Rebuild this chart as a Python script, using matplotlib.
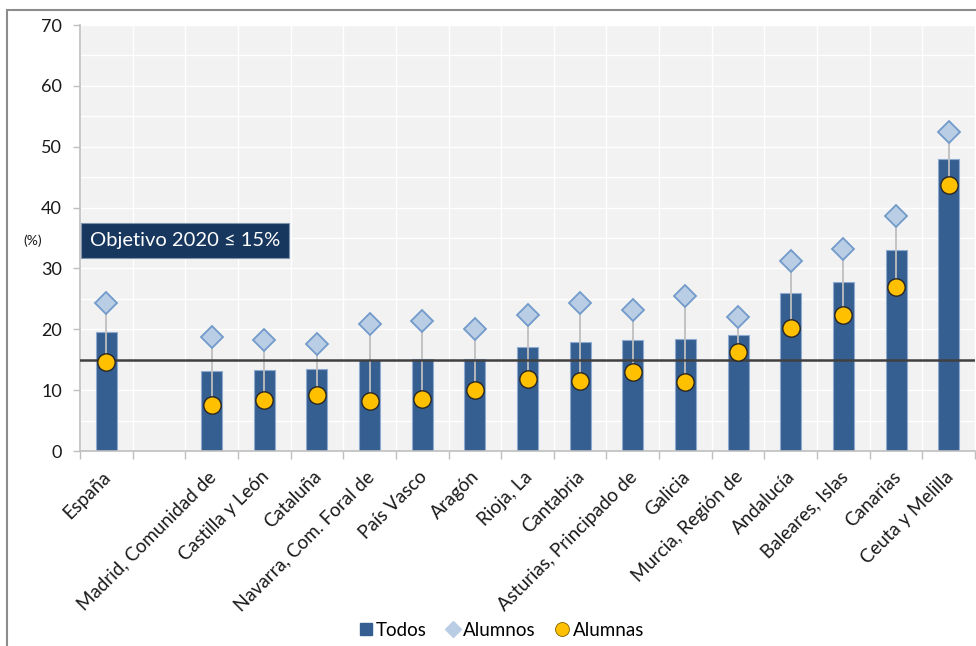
import matplotlib
matplotlib.use("Agg")
import matplotlib.pyplot as plt
from matplotlib.patches import Rectangle
from matplotlib.lines import Line2D
import numpy as np

plt.rcParams['font.family'] = ['Lato', 'DejaVu Sans']

categories = ["España", "", "Madrid, Comunidad de", "Castilla y León", "Cataluña",
              "Navarra, Com. Foral de", "País Vasco", "Aragón", "Rioja, La", "Cantabria",
              "Asturias, Principado de", "Galicia", "Murcia, Región de", "Andalucía",
              "Baleares, Islas", "Canarias", "Ceuta y Melilla"]
todos =   [19.5, np.nan, 13.1, 13.3, 13.5, 14.9, 15.1, 15.1, 17.1, 17.9, 18.3, 18.4, 19.1, 25.9, 27.7, 33.0, 47.9]
alumnos = [24.4, np.nan, 18.7, 18.2, 17.6, 20.9, 21.4, 20.0, 22.3, 24.3, 23.2, 25.5, 22.0, 31.2, 33.2, 38.6, 52.4]
alumnas = [14.6, np.nan, 7.5, 8.4, 9.25, 8.2, 8.5, 10.0, 11.8, 11.5, 12.9, 11.4, 16.3, 20.2, 22.3, 27.0, 43.7]
objetivo = 15
yticks = [0, 10, 20, 30, 40, 50, 60, 70]

W, H = 976, 646
fig = plt.figure(figsize=(W/100, H/100), dpi=100)
# outer frame
fig.patches.append(Rectangle((7/W, -0.1), 1.2, (H-10)/H + 0.1, transform=fig.transFigure,
                             fill=False, edgecolor='#8c8c8c', linewidth=1.5))

ax = fig.add_axes([80/W, (H-451)/H, (975-80)/W, (451-25)/H])
ax.set_facecolor('#f2f2f2')
x = np.arange(len(categories))

# grid
for yv in np.arange(5, 71, 5):
    ax.axhline(yv, color='white', lw=1.0, zorder=0)
for xv in np.arange(-0.5, len(categories), 1.0):
    ax.axvline(xv, color='white', lw=1.0, zorder=0)

ax.bar(x, todos, width=0.4, color='#365f91', edgecolor='#8eaad0', linewidth=0.8, zorder=2, label='Todos')
for xi, a, b in zip(x, alumnos, alumnas):
    if not np.isnan(a):
        ax.plot([xi, xi], [b, a], color='#bfbfbf', lw=1.3, zorder=3)
ax.axhline(objetivo, color='#404040', lw=1.8, zorder=4)
ax.plot(x, alumnos, linestyle='none', marker='D', ms=11, mfc='#b9cde5', mec='#729aca', mew=1.3, zorder=5)
ax.plot(x, alumnas, linestyle='none', marker='o', ms=12.5, mfc='#ffc000', mec='#262626', mew=1.0, zorder=6)

ax.set_xlim(-0.5, len(categories) - 0.5)
ax.set_ylim(0, 70)
ax.set_yticks(yticks)
ax.set_yticklabels([str(v) for v in yticks], fontsize=13, color='#1a1a1a')
ax.set_xticks(np.arange(-0.5, len(categories) + 0.5, 1.0))
ax.set_xticklabels([])
ax.tick_params(axis='x', length=6, color='#bfbfbf', width=1)
ax.tick_params(axis='y', length=5, color='#bfbfbf', width=1, pad=8)
for s in ['top', 'right']:
    ax.spines[s].set_visible(False)
for s in ['left', 'bottom']:
    ax.spines[s].set_color('#bfbfbf')
    ax.spines[s].set_linewidth(1.2)

for xi, lab in zip(x, categories):
    if lab:
        ax.text(xi - 0.08, -2.8, lab, rotation=45, ha='right', va='top', rotation_mode='anchor',
                fontsize=13.5, color='#1a1a1a', clip_on=False)

# objective box
ax.text(1.5, 34.6, "Objetivo 2020 \u2264 15%", ha='center', va='center', fontsize=14.5, color='white',
        zorder=7, bbox=dict(boxstyle='square,pad=0.45', facecolor='#17375e', edgecolor='#8093ad', linewidth=0.8))
fig.text(33/W, 1 - 241/H, "(%)", fontsize=10, ha='center', va='center', color='#1a1a1a')

handles = [Line2D([], [], linestyle='none', marker='s', ms=9, mfc='#365f91', mec='#365f91'),
           Line2D([], [], linestyle='none', marker='D', ms=8, mfc='#b9cde5', mec='#b9cde5'),
           Line2D([], [], linestyle='none', marker='o', ms=10, mfc='#ffc000', mec='#7f6000', mew=0.6)]
fig.legend(handles, ['Todos', 'Alumnos', 'Alumnas'], loc='center', bbox_to_anchor=(500/W, 1 - 630/H),
           ncol=3, frameon=False, fontsize=13.5, handletextpad=0.05, columnspacing=0.9, handlelength=1.0)

fig.savefig('out.png', dpi=100)
